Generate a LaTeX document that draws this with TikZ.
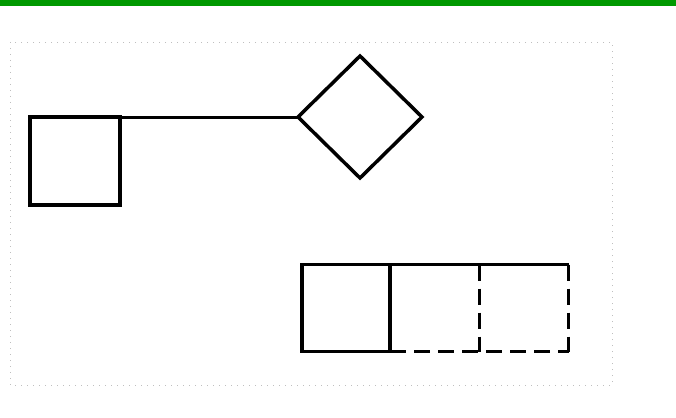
\documentclass[tikz,border=0pt]{standalone}
\usepackage{tikz}
\usetikzlibrary{shapes.geometric}

\begin{document}
\begin{tikzpicture}[x=1pt, y=-1pt,
        box/.style={draw, line width=3.5pt, minimum width=90pt,
                    minimum height=88pt, inner sep=0pt, outer sep=0pt},
        cell/.style={minimum width=89pt, minimum height=87pt, inner sep=0pt,
                     outer sep=0pt},
        rhomb/.style={draw, diamond, line width=3.5pt, minimum width=124pt,
                      minimum height=122pt, inner sep=0pt, outer sep=0pt},
        gap/.style={line width=3.5pt, dash pattern=on 16pt off 8pt}]
      \useasboundingbox (0,0) rectangle (676,417);
      \fill[green!60!black] (0,0) rectangle (676,6);
      \draw[black!25, line width=0.6pt, dash pattern=on 1pt off 5pt]
            (10,42) rectangle (612,385);
      \node[box]   (sq)  at (75,161)  {};
      \node[rhomb] (dia) at (360,117) {};
      \draw[line width=3pt] (sq.north east) -- (dia.west);
      \node[box, minimum width=88pt, minimum height=87pt] (b1) at (346,308) {};
      \node[cell]  (b2)  at (435,308) {};
      \node[cell]  (b3)  at (524,308) {};
      \draw[line width=3.5pt] (b1.north east) -- (b3.north east);
      \draw[gap] (b1.south east) -- (b3.south east);
      \draw[gap] (b2.north east) -- (b2.south east);
      \draw[gap] (b3.north east) -- (b3.south east);
    \end{tikzpicture}
\end{document}
